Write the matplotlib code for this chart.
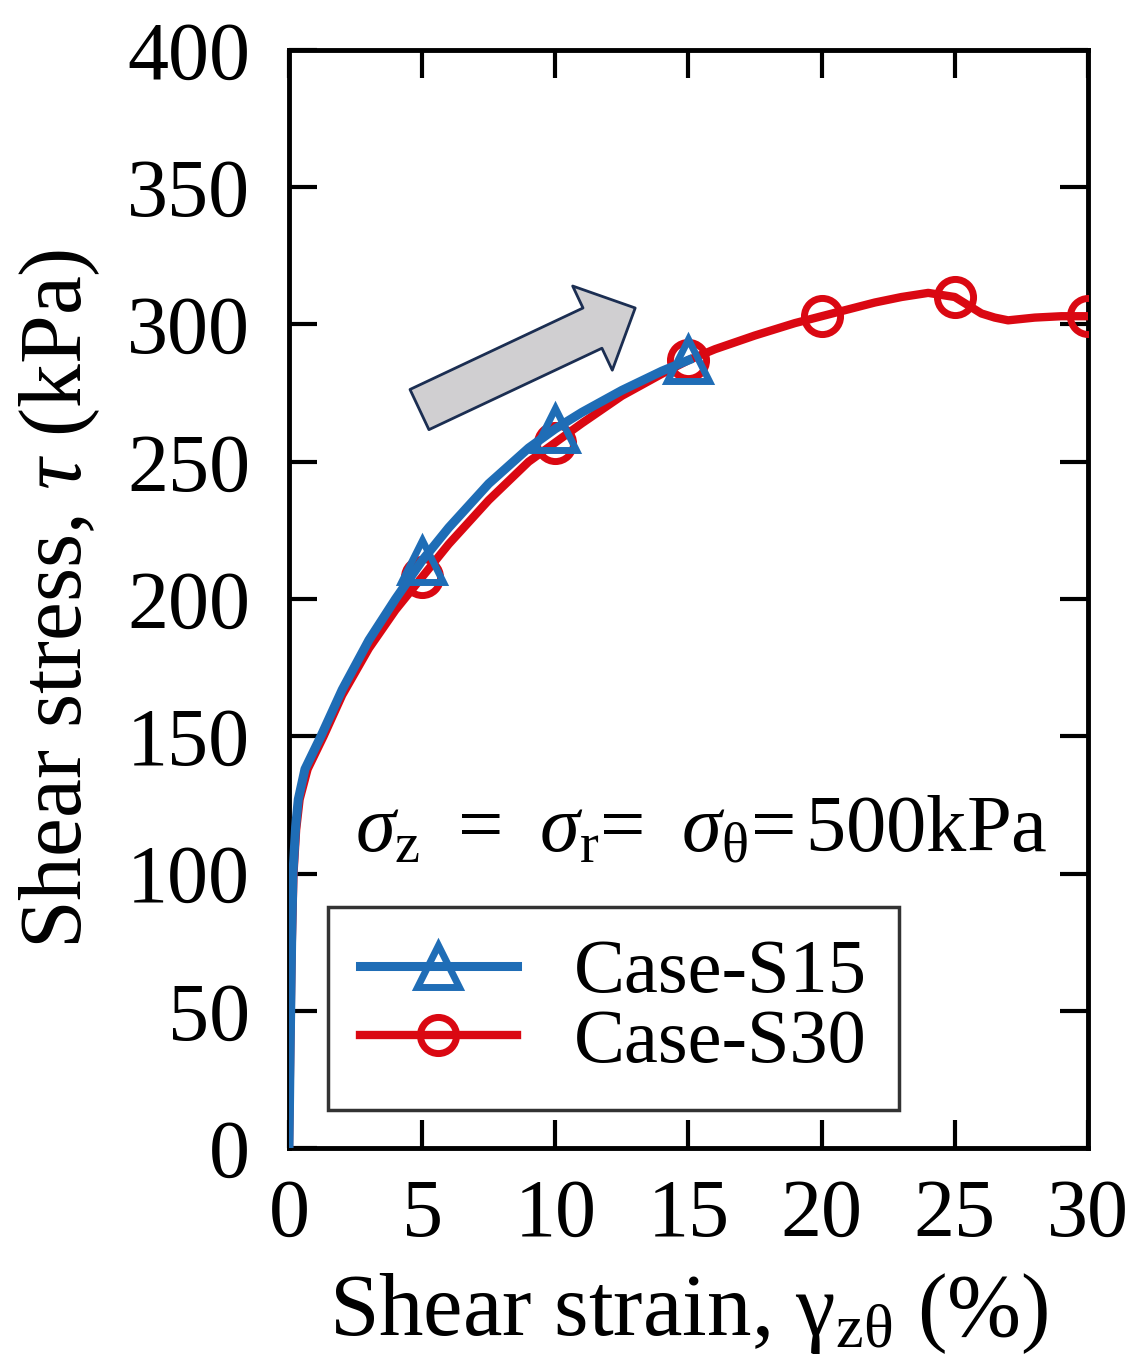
import matplotlib
matplotlib.use('Agg')
import matplotlib.pyplot as plt
import numpy as np

plt.rcParams['font.family'] = ['Liberation Serif', 'DejaVu Serif']
plt.rcParams['mathtext.fontset'] = 'custom'
plt.rcParams['mathtext.rm'] = 'Liberation Serif'
plt.rcParams['mathtext.it'] = 'Liberation Serif:italic'

# Case-S15 (blue, triangles)
s15_strain = [0, 0.05, 0.1, 0.15, 0.25, 0.35, 0.6, 1.2, 2, 3, 4, 5, 6, 7.5, 9, 10, 11, 12.5, 14, 15]
s15_stress = [0, 40, 75, 100, 117, 127, 138, 150, 167, 185, 200, 214, 226, 242, 255, 262, 268, 276, 283, 287]
s15_marks = [5, 10, 15]

# Case-S30 (red, circles)
s30_strain = [0, 0.05, 0.1, 0.17, 0.27, 0.4, 0.7, 1.3, 2, 3, 4, 5, 6, 7.5, 9, 10, 11, 12.5, 14, 15,
              16, 17.5, 19, 20, 21, 22, 23, 24, 25, 25.5, 26, 26.5, 27, 27.5, 28, 29, 30]
s30_stress = [0, 38, 72, 100, 116, 127, 138, 150, 165, 182, 196, 208, 220, 236, 250, 257, 264, 274, 282, 287,
              291, 296, 300.5, 303, 305.5, 308, 310, 311.5, 310, 307, 304, 302.5, 301.5, 302, 302.5, 303, 303]
s30_marks = [5, 10, 15, 20, 25, 30]

blue = '#1f6db6'
red = '#da0812'

fig = plt.figure(figsize=(11.39, 13.57), dpi=100)
ax = fig.add_axes([0.2537, 0.154, 0.7015, 0.8092])

idx30 = [s30_strain.index(v) for v in s30_marks]
idx15 = [s15_strain.index(v) for v in s15_marks]
ax.plot(s30_strain, s30_stress, color=red, lw=6, marker='o', markevery=idx30, ms=26,
        mfc='none', mec=red, mew=5, label='Case-S30', zorder=3)
ax.plot(s15_strain, s15_stress, color=blue, lw=6.5, marker='^', markevery=idx15, ms=30,
        mfc='none', mec=blue, mew=5, label='Case-S15', zorder=4)

ax.set_xlim(0, 30)
ax.set_ylim(0, 400)
ax.set_xticks(np.arange(0, 31, 5))
ax.set_yticks(np.arange(0, 401, 50))
ax.tick_params(direction='in', length=20, width=3, labelsize=59, top=True, right=True)
ax.tick_params(axis='x', pad=22)
ax.tick_params(axis='y', pad=28)
for s in ax.spines.values():
    s.set_linewidth(3.5)

ax.set_xlabel('Shear strain, γ$_{\\mathrm{zθ}}$ (%)', fontsize=64, labelpad=12)
ax.set_ylabel('Shear stress, $\\tau$ (kPa)', fontsize=63, labelpad=18)

ax.text(2.48, 108,
        '$\\sigma_\\mathrm{z}\\;$ = $\\;\\sigma_\\mathrm{r}$= $\\;\\sigma_\\mathrm{θ}$=$\\,$500kPa',
        fontsize=58, va='baseline', ha='left')

ax.annotate('', xy=(13.0, 306), xytext=(4.9, 269), xycoords='data',
            arrowprops=dict(arrowstyle='simple,head_length=34,head_width=67,tail_width=32',
                            mutation_scale=1, fc='#d0cfd1', ec='#1b2e52', lw=2,
                            shrinkA=0, shrinkB=0))

handles, labels = ax.get_legend_handles_labels()
leg = ax.legend(handles[::-1], labels[::-1], loc='lower left', bbox_to_anchor=(0.049, 0.0346),
                borderaxespad=0, fontsize=55, handlelength=2.05, handletextpad=0.75,
                labelspacing=0.0, borderpad=0.42, fancybox=False, framealpha=1)
leg.get_frame().set_edgecolor('#333333')
leg.get_frame().set_linewidth(2.5)

fig.savefig('out.png', dpi=100)
